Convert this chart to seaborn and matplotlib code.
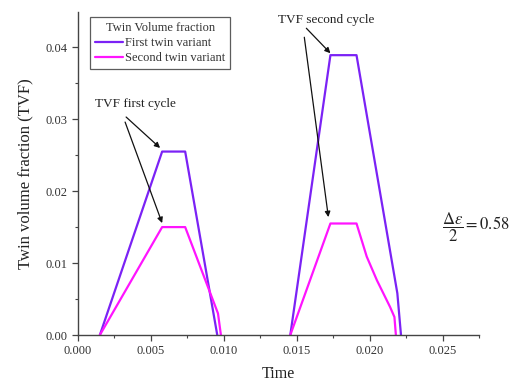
import matplotlib
matplotlib.use("Agg")
import matplotlib.pyplot as plt
import seaborn as sns
import pandas as pd
import numpy as np
from matplotlib.ticker import MultipleLocator, FormatStrFormatter

# ---- data (two loading cycles per series) ----
t_first_c1 = [0.0015, 0.00577, 0.00735, 0.00955]
v_first_c1 = [0.0, 0.0255, 0.0255, 0.0]
t_first_c2 = [0.01456, 0.01731, 0.0191, 0.0219, 0.02215]
v_first_c2 = [0.0, 0.0389, 0.0389, 0.0058, 0.0]

t_second_c1 = [0.0015, 0.00577, 0.00735, 0.0096, 0.0098]
v_second_c1 = [0.0, 0.0150, 0.0150, 0.0030, 0.0]
t_second_c2 = [0.01456, 0.01731, 0.0191, 0.0198, 0.0205, 0.0214, 0.0217, 0.0218]
v_second_c2 = [0.0, 0.0155, 0.0155, 0.0109, 0.0076, 0.0039, 0.0025, 0.0]

series_names = ["First twin variant", "Second twin variant"]
series_colors = ["#7b22f5", "#ff14ff"]
legend_title = "Twin Volume fraction"

x_ticks = [0.000, 0.005, 0.010, 0.015, 0.020, 0.025]
y_ticks = [0.00, 0.01, 0.02, 0.03, 0.04]

# annotation anchors (data coords)
ann_first_text = (0.00391, 0.0321)
ann_first_from = [(0.0033, 0.0303), (0.00323, 0.0296)]
ann_first_to = [(0.00563, 0.0260), (0.00577, 0.01556)]
ann_second_text = (0.01703, 0.04375)
ann_second_from = [(0.01566, 0.04264), (0.01552, 0.04139)]
ann_second_to = [(0.01731, 0.03917), (0.01717, 0.01639)]

frames = []
for name, cycles in zip(series_names, [[(t_first_c1, v_first_c1), (t_first_c2, v_first_c2)],
                                       [(t_second_c1, v_second_c1), (t_second_c2, v_second_c2)]]):
    for k, (t, v) in enumerate(cycles):
        frames.append(pd.DataFrame({"Time": t, "TVF": v, "Series": name, "cycle": f"{name}-{k}"}))
df = pd.concat(frames, ignore_index=True)

sns.set_style("ticks")
plt.rcParams["font.family"] = ["Liberation Serif", "DejaVu Serif"]
plt.rcParams["mathtext.fontset"] = "stix"

fig = plt.figure(figsize=(5.16, 3.85), dpi=100)
ax = fig.add_axes([78/516, 1 - 335/385, (479-78)/516, (335-12)/385])

sns.lineplot(data=df, x="Time", y="TVF", hue="Series", hue_order=series_names,
             palette=series_colors, units="cycle", estimator=None, sort=False,
             linewidth=1.6, ax=ax, zorder=2)

ax.set_xlim(0, 0.0275)
ax.set_ylim(0, 0.0449)
ax.set_xticks(x_ticks)
ax.set_yticks(y_ticks)
ax.xaxis.set_major_formatter(FormatStrFormatter("%.3f"))
ax.yaxis.set_major_formatter(FormatStrFormatter("%.2f"))
ax.xaxis.set_minor_locator(MultipleLocator(0.0025))
ax.yaxis.set_minor_locator(MultipleLocator(0.005))

for s in ["top", "right"]:
    ax.spines[s].set_visible(False)
for s in ["left", "bottom"]:
    ax.spines[s].set_color("#444444")
    ax.spines[s].set_linewidth(1.0)
    ax.spines[s].set_zorder(5)

ax.tick_params(which="major", direction="out", length=4, width=0.9, color="#444444",
               labelsize=9, labelcolor="#333333")
ax.tick_params(which="minor", direction="out", length=2.5, width=0.8, color="#444444")

ax.set_xlabel("Time", fontsize=11.5, color="#222222", labelpad=6)
ax.set_ylabel("Twin volume fraction (TVF)", fontsize=12, color="#222222", labelpad=9)

leg = ax.legend(title=legend_title, loc="upper left", bbox_to_anchor=(0.03, 0.985),
                fontsize=9, title_fontsize=9, frameon=True, fancybox=False,
                edgecolor="#333333", handlelength=2.2, handletextpad=0.2,
                borderpad=0.4, labelspacing=0.25, borderaxespad=0)
leg.get_frame().set_linewidth(0.9)
leg.get_title().set_color("#333333")
for txt in leg.get_texts():
    txt.set_color("#333333")

arrow_kw = dict(arrowstyle="-|>", color="#111111", lw=0.9, mutation_scale=8,
                shrinkA=0, shrinkB=0)
ax.text(*ann_first_text, "TVF first cycle", fontsize=9.5, ha="center", va="center", color="#222222")
for a, b in zip(ann_first_from, ann_first_to):
    ax.annotate("", xy=b, xytext=a, arrowprops=arrow_kw)
ax.text(*ann_second_text, "TVF second cycle", fontsize=9.5, ha="center", va="center", color="#222222")
for a, b in zip(ann_second_from, ann_second_to):
    ax.annotate("", xy=b, xytext=a, arrowprops=arrow_kw)

fig.text(476/516, 1 - 227/385, r"$\dfrac{\Delta\epsilon}{2} = 0.58$", fontsize=12,
         ha="center", va="center", color="#222222")

fig.savefig("out.png", dpi=100)
